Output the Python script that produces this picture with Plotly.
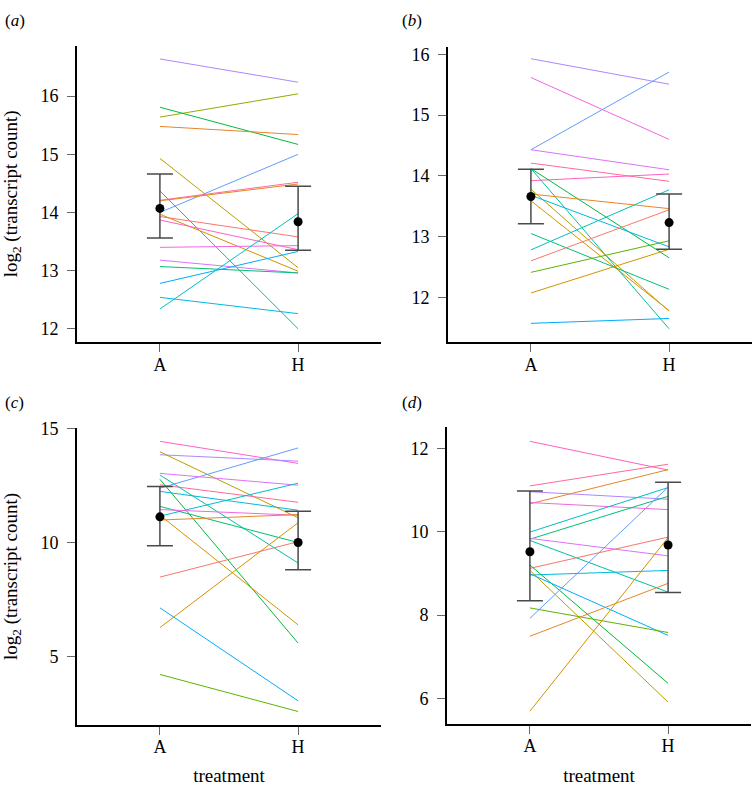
import plotly.graph_objects as go

W, H = 755, 786

# ggplot-style hue palette (18 genes)
palette = ["#F8766D", "#E88526", "#D39200", "#B79F00", "#93AA00", "#5EB300",
           "#00BA38", "#00BF74", "#00C19F", "#00BFC4", "#00B9E3", "#00ADFA",
           "#619CFF", "#AE87FF", "#DB72FB", "#F564E3", "#FF61C3", "#FF699C"]

treatments = ["A", "H"]
tick_pos = [1, 2]

# Panel (a)
a_A = [16.64, 15.64, 15.81, 15.48, 14.93, 14.00, 14.21, 14.20, 14.37, 13.97, 13.93, 13.87, 13.40, 13.18, 13.07, 12.78, 12.34, 12.54]
a_H = [16.24, 16.04, 15.17, 15.34, 13.05, 15.00, 14.52, 14.49, 12.00, 12.99, 13.58, 13.36, 13.43, 12.96, 12.96, 13.33, 13.98, 12.26]
a_col = [13, 4, 6, 1, 3, 12, 17, 1, 8, 2, 0, 16, 15, 14, 7, 11, 9, 10]
a_mean = [14.07, 13.84]
a_lo = [13.56, 13.35]
a_hi = [14.66, 14.45]

# Panel (b)
b_A = [15.93, 15.62, 14.43, 14.43, 14.21, 13.92, 14.12, 14.12, 13.70, 13.78, 13.59, 13.68, 13.05, 12.78, 12.60, 12.41, 12.07, 11.57]
b_H = [15.51, 14.60, 15.71, 14.10, 13.91, 14.03, 12.65, 11.48, 13.46, 11.77, 11.78, 12.83, 12.13, 13.77, 13.44, 12.93, 12.79, 11.65]
b_col = [13, 15, 12, 14, 17, 16, 6, 8, 1, 3, 2, 10, 7, 9, 0, 5, 2, 11]
b_mean = [13.66, 13.23]
b_lo = [13.21, 12.79]
b_hi = [14.11, 13.70]

# Panel (c)
c_A = [14.45, 13.86, 13.99, 12.39, 13.04, 12.54, 12.25, 12.97, 12.78, 11.16, 11.59, 11.45, 10.99, 11.20, 8.48, 6.26, 7.13, 4.20]
c_H = [13.48, 13.58, 11.09, 14.16, 12.52, 11.77, 11.42, 9.10, 5.58, 12.61, 10.00, 11.20, 11.23, 6.38, 10.04, 10.87, 3.04, 2.57]
c_col = [16, 13, 3, 12, 14, 17, 10, 8, 6, 9, 7, 15, 1, 2, 0, 2, 11, 5]
c_mean = [11.13, 10.00]
c_lo = [9.86, 8.80]
c_hi = [12.46, 11.38]

# Panel (d)
d_A = [12.17, 11.10, 10.67, 10.96, 10.70, 9.99, 9.82, 9.84, 9.79, 9.12, 8.96, 9.20, 9.07, 8.99, 7.92, 8.17, 7.49, 5.69]
d_H = [11.48, 11.62, 11.49, 10.78, 10.53, 11.06, 10.85, 9.42, 8.55, 9.87, 9.07, 6.36, 5.91, 7.51, 11.07, 7.58, 8.76, 9.86]
d_col = [16, 17, 1, 13, 15, 9, 7, 14, 8, 0, 10, 6, 3, 11, 12, 5, 1, 2]
d_mean = [9.52, 9.68]
d_lo = [8.34, 8.54]
d_hi = [10.98, 11.19]

panels = [
    dict(A=a_A, H=a_H, col=a_col, mean=a_mean, lo=a_lo, hi=a_hi, label="a",
         yrange=[11.77, 16.87], ytick=[12, 13, 14, 15, 16], xpx=(77, 381), ypx=(37, 337)),
    dict(A=b_A, H=b_H, col=b_col, mean=b_mean, lo=b_lo, hi=b_hi, label="b",
         yrange=[11.26, 16.13], ytick=[12, 13, 14, 15, 16], xpx=(448, 752), ypx=(38, 337)),
    dict(A=c_A, H=c_H, col=c_col, mean=c_mean, lo=c_lo, hi=c_hi, label="c",
         yrange=[1.99, 15.03], ytick=[5, 10, 15], xpx=(77, 381), ypx=(424, 724)),
    dict(A=d_A, H=d_H, col=d_col, mean=d_mean, lo=d_lo, hi=d_hi, label="d",
         yrange=[5.39, 12.51], ytick=[6, 8, 10, 12], xpx=(447, 751), ypx=(423, 723)),
]

FONT = "Liberation Serif"
fig = go.Figure()
layout = dict(width=W, height=H, margin=dict(l=0, r=0, t=0, b=0),
              plot_bgcolor="white", paper_bgcolor="white", showlegend=False,
              font=dict(family=FONT, size=18, color="black"), annotations=[])

for i, p in enumerate(panels):
    n = i + 1
    xa = "x" if n == 1 else f"x{n}"
    ya = "y" if n == 1 else f"y{n}"
    for a, h, c in zip(p["A"], p["H"], p["col"]):
        fig.add_trace(go.Scatter(x=tick_pos, y=[a, h], mode="lines",
                                 line=dict(color=palette[c], width=1),
                                 xaxis=xa, yaxis=ya, hoverinfo="skip"))
    plus = [hi - m for hi, m in zip(p["hi"], p["mean"])]
    minus = [m - lo for lo, m in zip(p["lo"], p["mean"])]
    fig.add_trace(go.Scatter(x=tick_pos, y=p["mean"], mode="markers",
                             marker=dict(color="black", size=9),
                             error_y=dict(type="data", symmetric=False, array=plus,
                                          arrayminus=minus, color="#4a4a4a",
                                          thickness=1.5, width=13),
                             xaxis=xa, yaxis=ya))
    x0, x1 = p["xpx"]
    y0, y1 = p["ypx"]
    axis_common = dict(showline=True, linecolor="black", linewidth=2,
                       ticks="outside", ticklen=8, tickwidth=1.2, tickcolor="#666",
                       showgrid=False, zeroline=False,
                       tickfont=dict(family=FONT, size=18, color="black"))
    xt = dict(text="treatment", standoff=14, font=dict(family=FONT, size=19)) if n >= 3 else None
    yt = dict(text="log<sub>2</sub> (transcript count)", standoff=18,
              font=dict(family=FONT, size=19)) if n in (1, 3) else None
    xdef = dict(domain=[x0 / W, x1 / W], range=[0.4, 2.6], tickvals=tick_pos,
                ticktext=treatments, anchor=ya, ticklabelstandoff=-3, **axis_common)
    if xt:
        xdef["title"] = xt
    ydef = dict(domain=[1 - y1 / H, 1 - y0 / H], range=p["yrange"], tickvals=p["ytick"],
                anchor=xa, ticklabelstandoff=5, **axis_common)
    if yt:
        ydef["title"] = yt
    layout["xaxis" if n == 1 else f"xaxis{n}"] = xdef
    layout["yaxis" if n == 1 else f"yaxis{n}"] = ydef
    lx = 3 if n in (1, 3) else 400
    ly = 0 if n in (1, 2) else 386
    layout["annotations"].append(dict(
        text=f"(<i>{p['label']}</i>)", x=lx / W, y=1 - ly / H, xref="paper", yref="paper",
        xanchor="left", yanchor="top", showarrow=False,
        font=dict(family=FONT, size=17, color="black")))

fig.update_layout(**layout)
fig.write_html("out.html", config={"displayModeBar": False},
               post_script="document.body.style.margin='0';document.body.style.overflow='hidden';")
